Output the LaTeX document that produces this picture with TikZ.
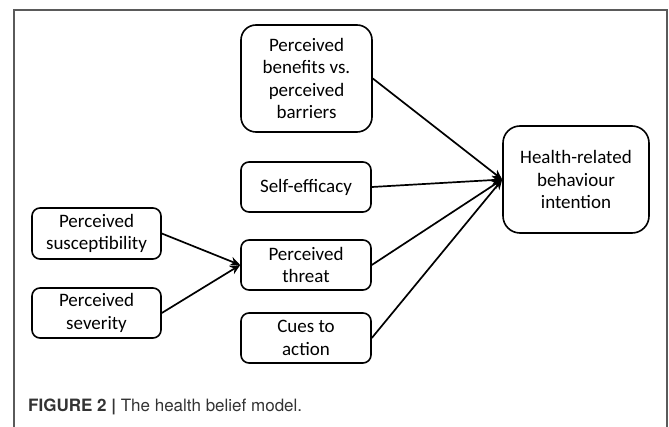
\documentclass[tikz,border=0pt]{standalone}
\usepackage{fontspec}
\setmainfont{Carlito}
\newfontfamily\capfont{TeX Gyre Heros}
\usetikzlibrary{arrows.meta}
\definecolor{framec}{HTML}{5A5A5A}
\definecolor{capc}{HTML}{333333}
\tikzset{
  box/.style={draw, line width=1.6pt, rounded corners=8pt, align=center, inner sep=0pt,
    font=\fontsize{19}{22.5}\selectfont},
  bigbox/.style={box, rounded corners=15pt},
  arr/.style={line width=1.7pt, -{Stealth[length=10pt,width=9pt]}},
}
\begin{document}
\begin{tikzpicture}[x=1pt,y=-1pt]
\useasboundingbox (0,0) rectangle (669,427);
\draw[framec, line width=1.5pt] (14,430) -- (14,10) -- (667,10) -- (667,430);

\node[bigbox, minimum width=131pt, minimum height=107pt] (ben) at (306.5,78.5) {Perceived\\benefits vs.\\perceived\\barriers};
\node[box, minimum width=130pt, minimum height=50pt] (self) at (306,187) {Self-efficacy};
\node[box, minimum width=130pt, minimum height=50pt] (thr) at (306,265) {Perceived\\threat};
\node[box, minimum width=130pt, minimum height=50pt] (cue) at (306,338) {Cues to\\action};
\node[box, minimum width=129pt, minimum height=51pt] (sus) at (96.5,233.5) {Perceived\\susceptibility};
\node[box, minimum width=129pt, minimum height=50pt] (sev) at (96.5,313) {Perceived\\severity};
\node[bigbox, rounded corners=17pt, minimum width=146pt, minimum height=107pt] (hea) at (576,179.5) {Health-related\\behaviour\\intention};

\draw[arr] (ben.east) -- (hea.west);
\draw[arr] (self.east) -- (hea.west);
\draw[arr] (thr.east) -- (hea.west);
\draw[arr] (cue.east) -- (hea.west);
\draw[arr] (sus.east) -- (thr.west);
\draw[arr] (sev.east) -- (thr.west);

\node[anchor=base west, inner sep=0pt, text=capc, font=\capfont\fontsize{17}{20}\selectfont] (cap) at (28,411) {\textbf{FIGURE 2 |} The health belief model.};
\end{tikzpicture}
\end{document}
